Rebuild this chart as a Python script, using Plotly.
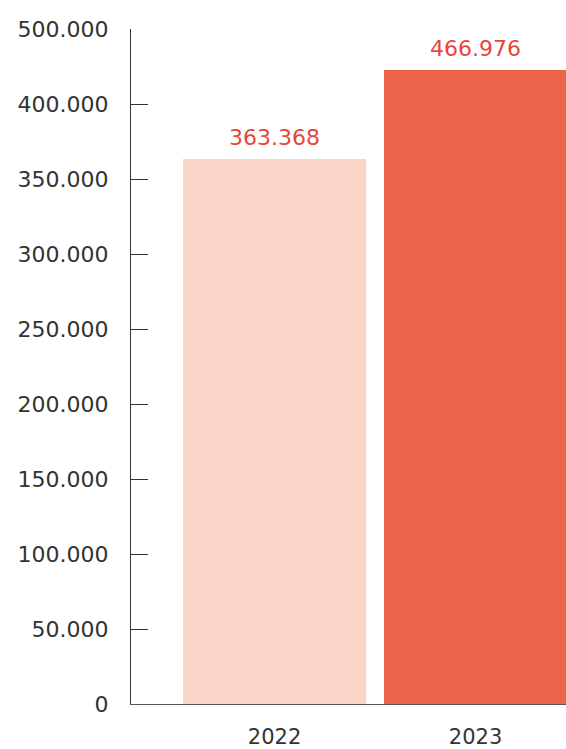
import plotly.graph_objects as go

years = ["2022", "2023"]
# Heights as drawn in the picture (the 2023 bar is drawn lower than its label suggests)
bar_heights = [363368, 422700]
value_labels = ["363.368", "466.976"]
bar_colors = ["#F9D6C8", "#EC654B"]

tick_vals = [0, 50000, 100000, 150000, 200000, 250000, 300000, 350000, 400000, 450000]
tick_text = ["0", "50.000", "100.000", "150.000", "200.000", "250.000", "300.000",
             "350.000", "400.000", "500.000"]

FONT = "DejaVu Sans"
SIZE = 22
fig = go.Figure()
fig.add_trace(go.Bar(
    x=years, y=bar_heights, marker=dict(color=bar_colors, line=dict(width=0)),
    width=0.91, hoverinfo="skip",
))
for i, (h, lab) in enumerate(zip(bar_heights, value_labels)):
    fig.add_annotation(x=i, y=h, xref="x", yref="y", text=lab, showarrow=False,
                       yanchor="bottom", yshift=7,
                       font=dict(family=FONT, size=SIZE, color="#E8463B"))

fig.update_layout(
    width=566, height=749,
    margin=dict(l=131, r=0, t=29, b=45, autoexpand=False),
    plot_bgcolor="white", paper_bgcolor="white",
    showlegend=False,
    bargap=0,
    xaxis=dict(
        type="category", range=[-0.714, 1.45], showgrid=False, zeroline=False,
        showline=True, linecolor="#555555", linewidth=1, ticks="",
        tickfont=dict(family=FONT, size=21, color="#333333"), ticklabelstandoff=14,
    ),
    yaxis=dict(
        range=[0, 450000], tickvals=tick_vals, ticktext=tick_text,
        showgrid=False, zeroline=False, showline=True, linecolor="#333333", linewidth=1,
        ticks="inside", ticklen=17, tickcolor="#333333", tickwidth=1,
        tickfont=dict(family=FONT, size=SIZE, color="#333333"), ticklabelstandoff=17,
    ),
)
fig.write_html("out.html", post_script="document.body.style.margin='0';",
               config={"displayModeBar": False})
